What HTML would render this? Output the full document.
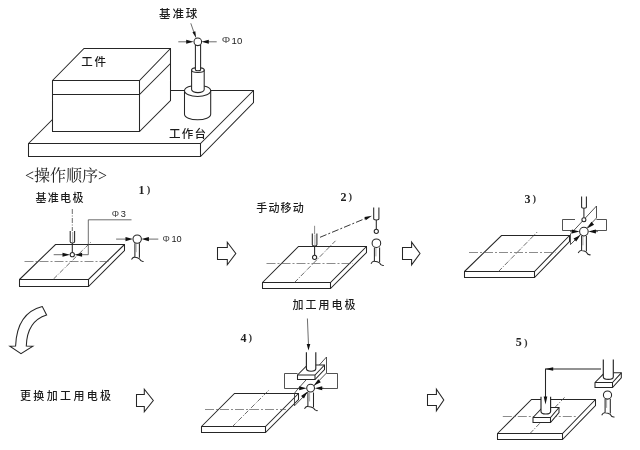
<!DOCTYPE html>
<html lang="zh">
<head>
<meta charset="utf-8">
<title>基准球 操作顺序</title>
<style>
html,body{margin:0;padding:0;background:#fff;}
body{width:640px;height:450px;overflow:hidden;}
svg{display:block;will-change:transform;}
.l{fill:none;stroke:#262626;stroke-width:1.05;stroke-linejoin:miter;stroke-linecap:butt;}
.w{fill:#fff;stroke:#262626;stroke-width:1.05;stroke-linejoin:miter;}
.t{fill:none;stroke:#3c3c3c;stroke-width:0.75;}
.p{fill:none;stroke:#333;stroke-width:0.85;}
.c{fill:none;stroke:#5a5a5a;stroke-width:0.7;stroke-dasharray:9 2 2 2;}
.d{fill:none;stroke:#454545;stroke-width:0.8;stroke-dasharray:5 1.5 1 1.5;}
.a{fill:#111;stroke:none;}
.g{font-family:"Liberation Sans","Noto Sans CJK SC",sans-serif;fill:#1c1c1c;font-weight:500;}
.s{font-family:"Liberation Serif","Noto Serif CJK SC",serif;fill:#222;}
</style>
</head>
<body>
<svg width="640" height="450" viewBox="0 0 640 450">
<rect x="0" y="0" width="640" height="450" fill="#fff"/>

<g id="top">
<path class="w" d="M28.5,143.5 L81.5,90.5 L253.5,90.5 L253.5,102.5 L200.5,156.5 L28.5,156.5 Z"/>
<path class="l" d="M28.5,143.5 L200.5,143.5 L253.5,90.5 M200.5,143.5 L200.5,156.5"/>
<path class="w" d="M52.5,80.5 L84,48.5 L170.5,48.5 L170.5,100.5 L139.5,131.5 L52.5,131.5 Z"/>
<path class="l" d="M52.5,80.5 L139.5,80.5 L170.5,48.5 M139.5,80.5 L139.5,131.5 M52.5,94.5 L139.5,94.5 L170.5,63.5"/>
<path class="w" d="M184.5,90.8 L184.5,114.2 A13.1,5.6 0 0 0 210.7,114.2 L210.7,90.8 Z"/>
<ellipse class="w" cx="197.6" cy="90.8" rx="13.1" ry="5.6"/>
<path class="w" d="M191.6,70 L191.6,89.6 A6.3,3 0 0 0 204.2,89.6 L204.2,70 Z"/>
<ellipse class="w" cx="197.9" cy="70" rx="6.3" ry="2.4"/>
<path class="w" d="M195.4,45 L195.4,69.8 A2.6,1 0 0 0 200.6,69.8 L200.6,45 Z"/>
<circle class="w" cx="197.8" cy="41.8" r="3.8"/>
<path class="t" d="M178.3,41.8 L187,41.8 M208,41.8 L216.7,41.8"/>
<path class="a" d="M193.60,41.80 L186.20,43.85 L186.20,39.75 Z M201.40,41.80 L208.80,39.75 L208.80,43.85 Z"/>
<path class="t" d="M190.8,23.3 L194.5,34"/>
<path class="a" d="M196.20,38.30 L192.45,32.20 L195.28,31.20 Z"/>
<text class="g" x="159" y="18" font-size="11.5" letter-spacing="1.9">基准球</text>
<text class="g" transform="translate(221.8,43.4) scale(1.3,1)" x="0" y="0" font-size="8.2" style="font-weight:400;fill:#444">Φ</text><text class="g" x="231.4" y="43.8" font-size="9.6" letter-spacing="0.2" style="font-weight:400">10</text>
<text class="g" x="81.2" y="66.2" font-size="11.5" letter-spacing="1.7">工件</text>
<text class="g" x="169" y="138.4" font-size="11.5" letter-spacing="1.3">工作台</text>
</g>
<text class="s" x="25" y="181.1" font-size="16" letter-spacing="0">&lt;操作顺序&gt;</text>
<g id="p1">
<path class="w" d="M19.5,279.5 L55.5,244.5 L124.5,244.5 L124.5,250.5 L88.5,286.5 L19.5,286.5 Z"/><path class="l" d="M19.5,279.5 L88.5,279.5 L124.5,244.5 M88.5,279.5 L88.5,286.5"/>
<path class="c" d="M24.5,261.5 L109.5,261.5"/>
<path class="d" d="M53.5,279 L91.5,241.5"/>
<path class="d" d="M72.3,209 L72.3,231"/>
<path class="l" d="M70.2,231 L70.2,241.8 Q70.2,243 72.4,243 Q74.6,243 74.6,241.8 L74.6,231"/><path class="t" d="M72.7,232 L72.7,243" style="stroke:#888"/>
<path class="l" d="M72.3,243 L72.3,252.5"/>
<circle class="w" cx="72.3" cy="254.7" r="2.1"/>
<path class="t" d="M53.7,254.7 L63,254.7 M82,254.7 L88.3,254.7 L88.3,219.8 L131.5,219.8"/>
<path class="a" d="M70.10,254.70 L62.50,256.75 L62.50,252.65 Z M74.50,254.70 L82.10,252.65 L82.10,256.75 Z"/>
<path class="l" d="M134.9,243.3 L134.9,257.2 M139.4,243.3 L139.4,257.8"/><path class="l" d="M131.5,259.59999999999997 Q132.9,256.8 134.9,257.2 Q137.7,257.4 139.4,258.8 Q141.0,262.0 143.6,261.4"/><path class="t" d="M136.1,243.3 L136.1,252.2" style="stroke:#888"/>
<circle class="w" cx="137.2" cy="239.1" r="4.2"/>
<path class="t" d="M116.1,239.1 L126,239.1 M148,239.1 L158.3,239.1"/>
<path class="a" d="M132.90,239.10 L125.50,241.15 L125.50,237.05 Z M141.50,239.10 L148.90,237.05 L148.90,241.15 Z"/>
<text class="g" x="35.4" y="202.4" font-size="11" letter-spacing="1.35">基准电极</text>
<text class="g" transform="translate(111.8,216.5) scale(1.12,1)" x="0" y="0" font-size="8.2" style="font-weight:400;fill:#444">Φ</text><text class="g" x="120.8" y="216.9" font-size="9.2" letter-spacing="0" style="font-weight:400">3</text>
<text class="g" transform="translate(162.4,241.6) scale(1.12,1)" x="0" y="0" font-size="8.2" style="font-weight:400;fill:#444">Φ</text><text class="g" x="171.4" y="242" font-size="9.2" letter-spacing="0" style="font-weight:400">10</text>
<text class="s" x="138.6" y="193.6" font-size="12" style="font-weight:700">1<tspan font-size="10.8" dx="2.2" dy="-0.9" style="font-weight:700;fill:#3a3a3a">)</tspan></text>
</g>
<path class="w" d="M217.5,247.5 L227.3,247.5 L227.3,242.2 L235.8,253.5 L227.3,264.8 L227.3,259.5 L217.5,259.5 Z"/>
<g id="p2">
<path class="w" d="M262.5,282.5 L298.5,246.5 L366.5,246.5 L366.5,252.5 L330.5,288.5 L262.5,288.5 Z"/><path class="l" d="M262.5,282.5 L330.5,282.5 L366.5,246.5 M330.5,282.5 L330.5,288.5"/>
<path class="c" d="M266.5,263.5 L353,263.5"/>
<path class="d" d="M294.5,282.5 L335.5,240.8"/>
<path class="t" d="M314.6,225.8 L314.6,234" style="stroke:#666"/>
<path class="l" d="M312.3,233.5 L312.3,244.8 Q312.3,246 314.6,246 Q316.9,246 316.9,244.8 L316.9,233.5"/><path class="t" d="M314.9,234.5 L314.9,246" style="stroke:#888"/>
<path class="l" d="M314.6,246 L314.6,255"/>
<circle class="w" cx="314.6" cy="257.3" r="2.1"/>
<path d="M320,237.3 L366,218.2" style="fill:none;stroke:#2c2c2c;stroke-width:0.95;stroke-dasharray:7 2 2 2"/>
<path class="a" d="M372.00,215.70 L365.76,220.23 L364.38,216.91 Z"/>
<path class="l" d="M373.7,207.5 L373.7,218.8 Q373.7,220 376.3,220 Q378.9,220 378.9,218.8 L378.9,207.5"/>
<path class="l" d="M376.3,220 L376.3,229.2"/>
<circle class="w" cx="376.3" cy="231.3" r="2.1"/>
<path class="l" d="M374.4,247.5 L374.4,261.3 M379.6,247.5 L379.6,261.90000000000003"/><path class="l" d="M371.0,263.7 Q372.4,260.90000000000003 374.4,261.3 Q377.5,261.5 379.6,262.90000000000003 Q381.2,266.1 383.8,265.5"/><path class="t" d="M375.9,247.5 L375.9,256.4" style="stroke:#888"/>
<circle class="w" cx="376.4" cy="243.2" r="4.3"/>
<text class="g" x="256.2" y="212.2" font-size="11" letter-spacing="1.2">手动移动</text>
<text class="s" x="340.4" y="200.9" font-size="12" style="font-weight:700">2<tspan font-size="10.8" dx="2.2" dy="-0.9" style="font-weight:700;fill:#3a3a3a">)</tspan></text>
</g>
<path class="w" d="M402.5,247.5 L411.6,247.5 L411.6,242.2 L420,253.5 L411.6,264.8 L411.6,259.5 L402.5,259.5 Z"/>
<g id="p3">
<path class="w" d="M464.5,271.5 L501.5,235.5 L569.5,235.5 L569.5,241.5 L534.5,277.5 L464.5,277.5 Z"/><path class="l" d="M464.5,271.5 L534.5,271.5 L569.5,235.5 M534.5,271.5 L534.5,277.5"/>
<path class="c" d="M469,252.5 L555.5,252.5"/>
<path class="d" d="M498.5,271.5 L537.2,232"/>
<path class="p" d="M575,219.5 L562.5,219.5 L562.5,230.5 L572.5,230.5 M596.5,219.5 L606.5,219.5 L606.5,230.5 L593,230.5"/>
<path class="p" d="M570.5,234 L596.5,206 L596.5,218 L570.5,244.6 Z"/>
<path class="l" d="M581.6,196.5 L581.6,207.0 Q581.6,208.2 584.0,208.2 Q586.4,208.2 586.4,207.0 L586.4,196.5"/>
<path class="l" d="M583.9,208.2 L583.9,217.7"/>
<circle class="w" cx="583.9" cy="219.7" r="2"/>
<path class="l" d="M581.6,236 L581.6,250.6 M586.4,236 L586.4,251.2"/><path class="l" d="M578.2,253.0 Q579.6,250.2 581.6,250.6 Q584.5,250.79999999999998 586.4,252.2 Q588.0,255.4 590.6,254.79999999999998"/><path class="t" d="M582.9,236 L582.9,245.3" style="stroke:#888"/>
<circle class="w" cx="583.9" cy="231.6" r="4.3"/>
<path class="t" d="M570,231.6 L574,231.6 M594,231.6 L598,231.6"/>
<path class="a" d="M579.50,231.60 L571.90,233.60 L571.90,229.60 Z M588.30,231.60 L595.90,229.60 L595.90,233.60 Z M587.10,228.40 L591.41,221.83 L594.09,224.80 Z M580.50,235.00 L576.19,241.57 L573.51,238.60 Z"/>
<text class="s" x="524.4" y="203" font-size="12" style="font-weight:700">3<tspan font-size="10.8" dx="2.2" dy="-0.9" style="font-weight:700;fill:#3a3a3a">)</tspan></text>
</g>
<path class="w" d="M42.3,306.6 Q17,313 15.6,345.9 L9.8,346.2 L21,353.7 L32.9,346.2 L26.3,345.9 Q27,321 46.6,314.9 Z"/>
<text class="g" x="20" y="400.3" font-size="11" letter-spacing="2.35">更换加工用电极</text>
<path class="w" d="M136.5,394.5 L144.3,394.5 L144.3,389.2 L153.3,400.5 L144.3,411.8 L144.3,406.5 L136.5,406.5 Z"/>
<g id="p4">
<text class="g" x="292.4" y="308.9" font-size="11" letter-spacing="2.05">加工用电极</text>
<text class="s" x="240.4" y="341.8" font-size="12" style="font-weight:700">4<tspan font-size="10.8" dx="2.2" dy="-0.9" style="font-weight:700;fill:#3a3a3a">)</tspan></text>
<path class="w" d="M201.5,426.5 L234.5,393.5 L298.5,393.5 L298.5,399.5 L265.5,432.5 L201.5,432.5 Z"/><path class="l" d="M201.5,426.5 L265.5,426.5 L298.5,393.5 M265.5,426.5 L265.5,432.5"/>
<path class="c" d="M205,409.5 L286,409.5"/>
<path class="d" d="M232,427 L269,390"/>
<path class="p" d="M297.5,373.5 L284.5,373.5 L284.5,388.5 L299,388.5 M326.5,373.5 L337.5,373.5 L337.5,388.5 L320,388.5"/>
<path class="p" d="M297,390 L326.5,357 L326.5,373 L294.5,405.8 L294.5,393.3 Z"/>
<path class="t" d="M307.4,318.5 L308.5,345"/>
<path class="a" d="M308.50,350.40 L306.70,343.90 L310.30,343.90 Z"/>
<path class="w" d="M297.5,375 L307.5,365 L324.5,365 L324.5,369.5 L315,379.5 L297.5,379.5 Z"/><path class="l" d="M297.5,375 L315,375 L324.5,365 M315,375 L315,379.5"/>
<path class="w" d="M306.4,352.2 L306.4,368.6 Q306.4,371.2 311.1,371.2 Q315.8,371.2 315.8,368.6 L315.8,352.2" style="stroke-width:1.15"/>
<path class="l" d="M307.9,392.4 L307.9,406.4 M313.5,392.4 L313.5,407.0"/><path class="l" d="M304.5,408.79999999999995 Q305.9,406.0 307.9,406.4 Q311.2,406.59999999999997 313.5,408.0 Q315.1,411.2 317.7,410.59999999999997"/><path class="t" d="M309.6,392.4 L309.6,401.4" style="stroke:#888"/>
<circle class="w" cx="310.6" cy="388.1" r="3.9"/>
<path class="t" d="M298.5,388.1 L301,388.1 M321,388.1 L323.5,388.1"/>
<path class="a" d="M306.60,388.30 L299.20,390.30 L299.20,386.30 Z M314.80,388.30 L322.20,386.30 L322.20,390.30 Z M313.80,385.40 L318.29,379.19 L320.81,382.30 Z M307.60,391.60 L304.00,398.59 L301.03,395.91 Z"/>
</g>
<path class="w" d="M427.5,394.5 L436.4,394.5 L436.4,389.2 L443.8,400 L436.4,410.8 L436.4,405.5 L427.5,405.5 Z"/>
<g id="p5">
<text class="s" x="515.8" y="346.4" font-size="12" style="font-weight:700">5<tspan font-size="10.8" dx="2.2" dy="-0.9" style="font-weight:700;fill:#3a3a3a">)</tspan></text>
<path class="w" d="M497.5,433.5 L531.5,399.5 L595.5,399.5 L595.5,405.5 L562.5,439.5 L497.5,439.5 Z"/><path class="l" d="M497.5,433.5 L562.5,433.5 L595.5,399.5 M562.5,433.5 L562.5,439.5"/>
<path class="c" d="M502.8,416.5 L575.8,416.5"/>
<path class="d" d="M530,433.5 L565.2,396.7"/>
<path class="w" d="M533,417.5 L542.5,407.5 L559,407.5 L559,412.5 L550.5,422.5 L533,422.5 Z"/><path class="l" d="M533,417.5 L550.5,417.5 L559,407.5 M550.5,417.5 L550.5,422.5"/>
<path class="w" d="M541,396.7 L541,411.5 Q541,414 545.8,414 Q550.6,414 550.6,411.5 L550.6,396.7" style="stroke-width:1.15"/>
<path class="l" d="M601,369 L545.5,369 L545.5,400"/>
<path class="a" d="M545.20,369.00 L553.20,367.20 L553.20,370.80 Z M545.50,404.40 L543.70,396.40 L547.30,396.40 Z"/>
<path class="w" d="M595,382.5 L604.5,372.8 L621.3,372.8 L621.3,377.8 L612.5,387.5 L595,387.5 Z"/><path class="l" d="M595,382.5 L612.5,382.5 L621.3,372.8 M612.5,382.5 L612.5,387.5"/>
<path class="w" d="M603.3,359.5 L603.3,376.8 Q603.3,379.4 608.3,379.4 Q613.3,379.4 613.3,376.8 L613.3,359.5" style="stroke-width:1.15"/>
<path class="l" d="M605.1,399 L605.1,412.8 M610.3,399 L610.3,413.40000000000003"/><path class="l" d="M601.7,415.2 Q603.1,412.40000000000003 605.1,412.8 Q608.2,413.0 610.3,414.40000000000003 Q611.9,417.6 614.5,417.0"/><path class="t" d="M606.6,399 L606.6,407.9" style="stroke:#888"/>
<circle class="w" cx="607.5" cy="395" r="4.1"/>
</g>
</svg>
</body>
</html>
